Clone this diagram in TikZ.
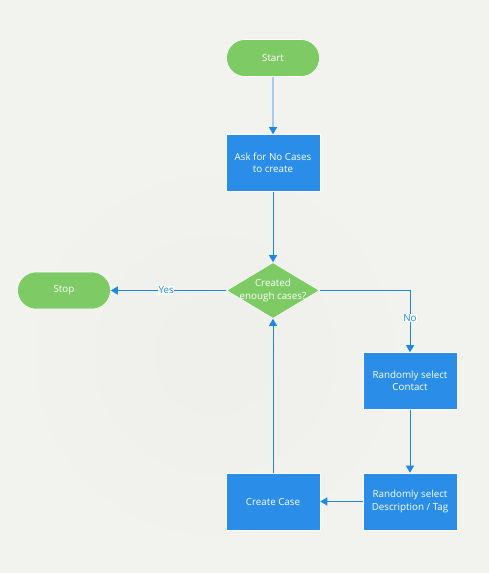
\documentclass[tikz,border=0pt]{standalone}
\usepackage{fontspec}
\setmainfont{Open Sans}
\usetikzlibrary{shapes.geometric,shapes.misc,arrows.meta}
\definecolor{bg}{RGB}{242,243,239}
\definecolor{bgc}{RGB}{236,237,233}
\definecolor{grn}{RGB}{126,203,102}
\definecolor{blu}{RGB}{42,142,232}
\definecolor{lin}{RGB}{30,136,229}
\tikzset{
  every node/.style={font=\fontsize{9.8}{12.5}\selectfont, text=white, align=center},
  term/.style={rounded rectangle, fill=grn, draw=white, line width=0.6pt, minimum width=93pt, minimum height=37pt, inner sep=0pt},
  proc/.style={rectangle, fill=blu, draw=white, line width=0.6pt, minimum width=94pt, minimum height=57pt, inner sep=0pt},
  dec/.style={diamond, fill=grn, draw=white, line width=0.6pt, minimum width=93pt, minimum height=56pt, inner sep=0pt, aspect=1.68},
  conn/.style={draw=lin, line width=0.9pt, -{Triangle[width=8pt,length=7pt]}},
  lab/.style={fill=white, text=lin, inner sep=0.5pt}
}
\begin{document}
\begin{tikzpicture}[x=1pt,y=-1pt]
\fill[bg] (0,0) rectangle (489,573);
\fill[bgc, opacity=0.15] (215,355) circle (180);
\fill[bgc, opacity=0.2] (215,355) circle (120);
\fill[bgc, opacity=0.2] (215,355) circle (60);
\useasboundingbox (0,0) rectangle (489,573);
\node[term] (start) at (273,58) {Start};
\node[proc] (ask) at (273,163) {Ask for No Cases\\to create};
\node[dec] (dec) at (273,290.5) {};
\node (dect) at (dec.center) {Created\\enough cases?};
\node[term] (stop) at (64,290.5) {Stop};
\node[proc] (cont) at (410,381) {Randomly select\\Contact};
\node[proc] (desc) at (410,501.5) {Randomly select\\Description / Tag};
\node[proc] (cc) at (273,501.5) {Create Case};
\draw[conn] (start) -- (ask);
\draw[conn] (ask) -- (dec);
\draw[conn] (dec) -- node[lab, pos=0.52] {Yes} (stop);
\draw[conn] (dec.east) -| node[lab, pos=0.72] {No} (cont.north);
\draw[conn] (cont) -- (desc);
\draw[conn] (desc) -- (cc);
\draw[conn] (cc) -- (dec);
\end{tikzpicture}
\end{document}
